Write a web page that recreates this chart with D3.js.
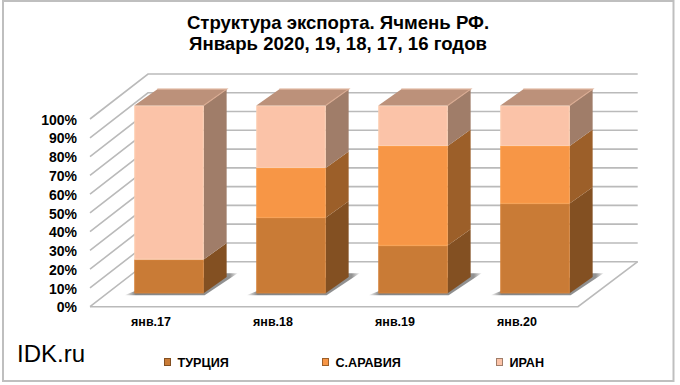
<!DOCTYPE html>
<html>
<head>
<meta charset="utf-8">
<script src="https://cdn.jsdelivr.net/npm/d3@7"></script>
<style>
html,body{margin:0;padding:0;background:#fff;}
svg{display:block;}
text{font-family:"Liberation Sans",Arial,sans-serif;fill:#000;}
</style>
</head>
<body>
<svg id="chart" width="680" height="385"></svg>
<script>
const categories = ["янв.17","янв.18","янв.19","янв.20"];
const seriesNames = ["ТУРЦИЯ","С.АРАВИЯ","ИРАН"];
const turkey = [18,40.3,25.4,47.8];
const saudi = [0,26.5,53.1,30.7];
const iran = [82,33.2,21.5,21.5];
const percentTicks = [0,10,20,30,40,50,60,70,80,90,100];
const titleLines = ["Структура экспорта. Ячмень РФ.","Январь 2020, 19, 18, 17, 16 годов"];

const frontColors = ["#c97b36","#f79646","#fbc3a8"];
const sideColors = ["#835022","#9c5f29","#a07d69"];
const topColor = "#bc917a";

let svg = d3.select("#chart");

// shadow fades out at both ends of the bar footprint
let shade = svg.append("defs").append("linearGradient").attr("id","shade")
    .attr("x1",0).attr("x2",1).attr("y1",0).attr("y2",0);
shade.append("stop").attr("offset","0%").attr("stop-color","#777").attr("stop-opacity",0);
shade.append("stop").attr("offset","10%").attr("stop-color","#777").attr("stop-opacity",0.9);
shade.append("stop").attr("offset","93%").attr("stop-color","#777").attr("stop-opacity",0.8);
shade.append("stop").attr("offset","100%").attr("stop-color","#777").attr("stop-opacity",0.1);

// frame
svg.append("rect").attr("x",3).attr("y",1).attr("width",670.5).attr("height",380)
    .attr("fill","#fff").attr("stroke","#bfbfbf").attr("stroke-width",2);

// title
svg.selectAll("text.title").data(titleLines).join("text")
    .attr("class","title")
    .attr("x",338).attr("y",(d,i)=>29+i*21)
    .attr("text-anchor","middle")
    .attr("font-size",18.6).attr("font-weight","bold")
    .text(d=>d);

// scales
let xscale = d3.scaleBand().domain(categories).range([90,578]);
let yscale = d3.scaleLinear().domain([0,100]).range([306.7,119]);

// wall offset of the 3D box
let depthX = 58, depthY = -45;
let backRight = 637.7;

let grid = svg.append("g").attr("fill","none").attr("stroke","#bababa").attr("stroke-width",1.6);
grid.selectAll("path.wall").data(percentTicks).join("path")
    .attr("class","wall")
    .attr("d",d=>{
        let p = d3.path();
        p.moveTo(xscale.range()[0],yscale(d));
        p.lineTo(xscale.range()[0]+depthX,yscale(d)+depthY);
        p.lineTo(backRight,yscale(d)+depthY);
        return p.toString();
    });
// floor edges
let floor = d3.path();
floor.moveTo(xscale.range()[0],yscale(0));
floor.lineTo(xscale.range()[1],yscale(0));
floor.lineTo(backRight,yscale(0)+depthY);
grid.append("path").attr("d",floor.toString());

// y axis labels
let yaxis = d3.axisLeft(yscale).tickValues(percentTicks).tickFormat(d=>d+"%").tickSize(0).tickPadding(0);
let yg = svg.append("g").attr("transform","translate(77,0.7)").call(yaxis);
yg.select(".domain").remove();
yg.selectAll("text").attr("font-size",14).attr("font-weight","bold")
    .style("font-family",'"Liberation Sans",Arial,sans-serif').attr("fill","#000");

// category labels
let xaxis = d3.axisBottom(xscale).tickSize(0).tickPadding(0);
let xg = svg.append("g").attr("transform","translate(0,317)").call(xaxis);
xg.select(".domain").remove();
xg.selectAll("text").attr("font-size",12.5).attr("font-weight","bold")
    .style("font-family",'"Liberation Sans",Arial,sans-serif').attr("fill","#000");

// bars
let table = categories.map((c,i)=>({cat:c,ТУРЦИЯ:turkey[i],"С.АРАВИЯ":saudi[i],ИРАН:iran[i]}));
let stacked = d3.stack().keys(seriesNames)(table);

let barW = 69.3;
let barOffX = 18, barOffY = -13.4;     // bar front face, set back from front of floor
let barDX = 23, barDY = -16.4;         // depth of the bar itself
let barX = c => xscale(c)+xscale.bandwidth()/2-barW/2+barOffX;

let shadows = svg.append("g");
shadows.selectAll("path").data(categories).join("path")
    .attr("d",c=>{
        let x0 = barX(c), y0 = yscale(0)+barOffY;
        let p = d3.path();
        p.moveTo(x0-10,y0+2);
        p.lineTo(x0+barW+1,y0+2);
        p.lineTo(x0+barW+barDX+11,y0-20);
        p.lineTo(x0+barW+barDX,y0-20);
        p.lineTo(x0,y0-2);
        p.closePath();
        return p.toString();
    })
    .attr("fill","url(#shade)");

let bars = svg.append("g");
stacked.forEach((layer,si)=>{
    let g = bars.append("g");
    layer.forEach(d=>{
        if(d[1]-d[0]<=0) return;
        let c = d.data.cat;
        let x0 = barX(c), y1 = yscale(d[1])+barOffY, y0 = yscale(d[0])+barOffY;
        // side
        g.append("polygon")
            .attr("points",[[x0+barW,y0],[x0+barW+barDX,y0+barDY],[x0+barW+barDX,y1+barDY],[x0+barW,y1]].join(" "))
            .attr("fill",sideColors[si]);
        // front
        g.append("rect")
            .attr("x",x0).attr("y",y1).attr("width",barW).attr("height",y0-y1)
            .attr("fill",frontColors[si]);
        g.append("rect")
            .attr("x",x0+0.5).attr("y",y1+0.5).attr("width",barW-1).attr("height",y0-y1-1)
            .attr("fill","none").attr("stroke",d3.color(frontColors[si]).brighter(0.25)).attr("stroke-opacity",0.6);
        // top of the stack
        if(d[1]>=100){
            g.append("polygon")
                .attr("points",[[x0,y1],[x0+barDX,y1+barDY],[x0+barW+barDX,y1+barDY],[x0+barW,y1]].join(" "))
                .attr("fill",topColor);
            g.append("path")
                .attr("d",`M${x0+barW},${y1}L${x0+barW+barDX},${y1+barDY}L${x0+barDX},${y1+barDY}`)
                .attr("fill","none").attr("stroke","#d9ab92").attr("stroke-width",1.2);
        }
    });
});

// watermark
svg.append("text").attr("x",17).attr("y",362).attr("font-size",24).text("IDK.ru");

// legend
let legendX = d3.scaleOrdinal().domain(seriesNames).range([164,322,496]);
let legend = svg.append("g").selectAll("g").data(seriesNames).join("g")
    .attr("transform",d=>`translate(${legendX(d)},363)`);
legend.append("rect").attr("x",0.5).attr("y",-4.5).attr("width",6).attr("height",7)
    .attr("fill",(d,i)=>frontColors[i]).attr("stroke",(d,i)=>sideColors[i]);
legend.append("text").attr("x",13.5).attr("y",4).attr("font-size",12.6).attr("font-weight","bold").text(d=>d);
</script>
</body>
</html>
